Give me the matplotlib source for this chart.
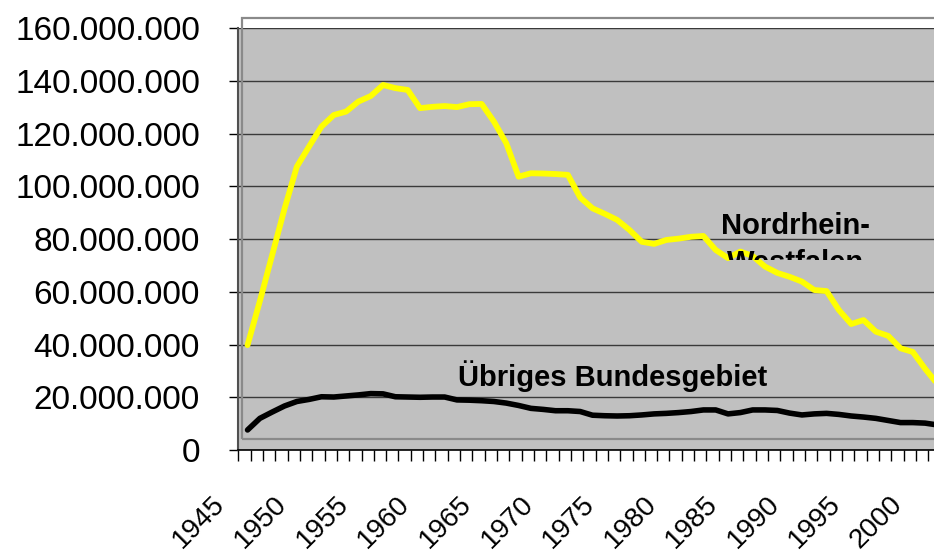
import matplotlib
matplotlib.use("Agg")
import matplotlib.pyplot as plt
import matplotlib.patches as patches
from matplotlib.ticker import FuncFormatter, FixedLocator, MultipleLocator
from matplotlib.transforms import ScaledTranslation, Bbox, TransformedBbox

plt.rcParams['font.family'] = ['Liberation Sans', 'DejaVu Sans']

# values in millions
years = list(range(1946, 2003))
nrw = [39.8, 56.5, 74.0, 91.5, 107.5, 115.2, 122.7, 127.1, 128.4, 132.2,
       134.3, 138.5, 137.3, 136.6, 129.7, 130.2, 130.5, 130.1, 131.2, 131.3,
       124.6, 116.4, 103.7, 105.0, 104.9, 104.7, 104.4, 95.8, 91.7, 89.6,
       87.3, 83.5, 79.0, 78.2, 79.7, 80.2, 80.9, 81.2, 75.9, 72.8,
       75.3, 73.6, 69.6, 67.2, 65.7, 63.9, 60.7, 60.3, 53.1, 47.8,
       49.3, 44.9, 43.3, 38.6, 37.2, 30.8, 25.0]
rest = [7.6, 12.0, 14.4, 16.7, 18.4, 19.2, 20.2, 20.1, 20.5, 20.9,
        21.4, 21.3, 20.2, 20.1, 20.0, 20.1, 20.1, 19.0, 18.9, 18.7,
        18.4, 17.8, 16.9, 15.8, 15.4, 14.9, 14.9, 14.6, 13.2, 13.0,
        12.9, 13.0, 13.3, 13.7, 13.9, 14.2, 14.6, 15.2, 15.2, 13.7,
        14.2, 15.2, 15.2, 15.0, 14.0, 13.3, 13.7, 13.9, 13.5, 12.9,
        12.5, 12.0, 11.2, 10.4, 10.4, 10.2, 9.5]
label_years = list(range(1945, 2001, 5))

nrw = [v * 1e6 for v in nrw]
rest = [v * 1e6 for v in rest]

fig = plt.figure(figsize=(9.34, 5.56), dpi=100)
ax = fig.add_axes([238.3 / 934, 1 - 450 / 556, 1 - 238.3 / 934, (450 - 28.3) / 556])
ax.set_facecolor('#C0C0C0')

ax.plot(years, nrw, color='#FFFF00', lw=4.2, solid_capstyle='round', solid_joinstyle='round', zorder=3)
ax.plot(years, rest, color='black', lw=4.0, solid_capstyle='round', solid_joinstyle='round', zorder=3)

x0 = 1945.25
ax.set_xlim(x0, x0 + (934 - 238.3) / 12.32)
ax.set_ylim(0, 160e6)

# y axis
ax.yaxis.set_major_locator(MultipleLocator(20e6))
ax.yaxis.set_major_formatter(FuncFormatter(lambda v, p: f"{int(v):,}".replace(',', '.')))
ax.tick_params(axis='y', direction='out', length=6.5, width=1, pad=21, labelsize=24, color='black')
ax.grid(axis='y', color='#3a3a3a', lw=1.0, zorder=1)
ax.set_axisbelow(True)

# x axis: tick marks every year, labels every 5 years
# labels sit a little left of their year; place them inside the limits and shift
shift = 0.5
ax.xaxis.set_minor_locator(FixedLocator([x0 + i for i in range(57)]))
ax.xaxis.set_major_locator(FixedLocator([y + shift for y in label_years]))
ax.set_xticklabels([str(y) for y in label_years])
ax.tick_params(axis='x', which='minor', direction='out', length=8, width=1, color='black')
ax.tick_params(axis='x', which='major', length=0, pad=36, labelsize=20)
for lab in ax.get_xticklabels():
    lab.set_rotation(45)
    lab.set_rotation_mode('anchor')
    lab.set_ha('right')
    lab.set_va('center')
    lab.set_transform(lab.get_transform() +
                      ScaledTranslation((-14 - shift * 12.32) / 100, 0, fig.dpi_scale_trans))

for s in ['top', 'right']:
    ax.spines[s].set_visible(False)
ax.spines['left'].set_color('#505050')
ax.spines['left'].set_linewidth(1.5)
ax.spines['bottom'].set_color('black')
ax.spines['bottom'].set_linewidth(1.2)

# frame of the embedded chart
frame = patches.Rectangle((0.0053, 0.026), 1.2, 1.0233 - 0.026, transform=ax.transAxes,
                          fill=False, edgecolor='#8a8a8a', lw=1.6, clip_on=False, zorder=2)
ax.add_patch(frame)

# labels
ax.text(1975.63, 24.3e6, 'Übriges Bundesgebiet', ha='center', va='baseline',
        fontsize=21, fontweight='bold', zorder=4)
clip = TransformedBbox(Bbox([[1980, 72.1e6], [2000, 95e6]]), ax.transData)
for txt, yb in [('Nordrhein-', 82.0e6), ('Westfalen', 67.9e6)]:
    t = ax.text(1990.44, yb, txt, ha='center', va='baseline', fontsize=21,
                fontweight='bold', zorder=4)
    t.set_clip_on(True)
    t.set_clip_box(clip)

fig.savefig('out.png', dpi=100)
